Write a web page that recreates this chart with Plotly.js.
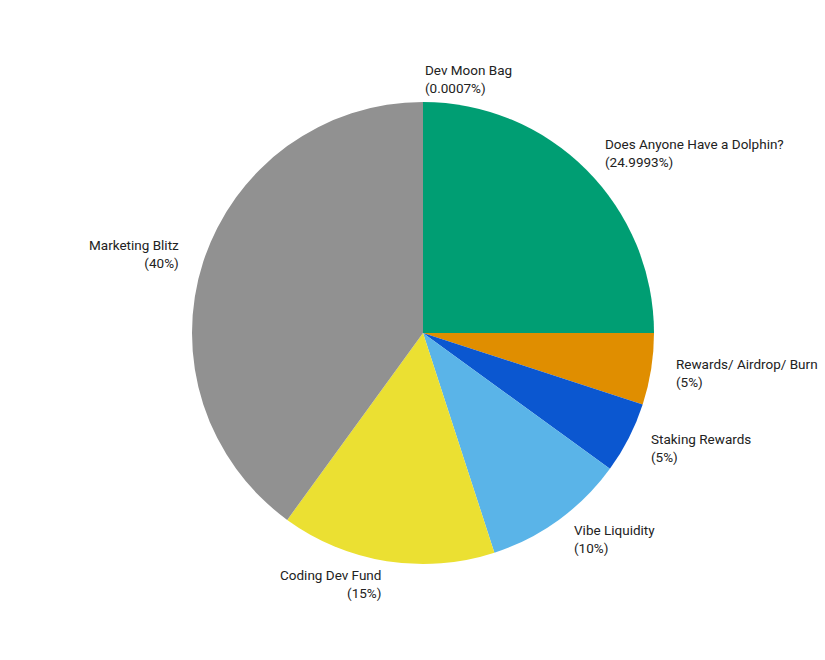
<!DOCTYPE html>
<html>
<head>
<meta charset="utf-8">
<script src="https://cdn.plot.ly/plotly-3.0.1.min.js"></script>
<style>html,body{margin:0;padding:0;background:#fff;}#chart{width:825px;height:660px;}</style>
</head>
<body>
<div id="chart"></div>
<script>
const labels = ["Dev Moon Bag", "Does Anyone Have a Dolphin?", "Rewards/ Airdrop/ Burn", "Staking Rewards", "Vibe Liquidity", "Coding Dev Fund", "Marketing Blitz"];
const values = [0.0007, 24.9993, 5, 5, 10, 15, 40];
const pctLabels = ["0.0007%", "24.9993%", "5%", "5%", "10%", "15%", "40%"];
const colors = ["#919191", "#009E73", "#E08E00", "#0B57D0", "#5AB4E8", "#EBE032", "#919191"];

const W = 825, H = 660;
const cx = 423, cy = 333, R = 231;

const total = values.reduce((a, b) => a + b, 0);
const annotations = [];
let cum = 0;
values.forEach((v, i) => {
  const mid = (cum + v / 2) / total * 2 * Math.PI;
  cum += v;
  const rr = R * 1.1;
  const px = cx + rr * Math.sin(mid);
  const py = cy - rr * Math.cos(mid);
  const left = Math.sin(mid) >= -1e-6;
  annotations.push({
    xref: "paper", yref: "paper",
    x: px / W, y: 1 - py / H,
    xanchor: left ? "left" : "right", yanchor: "middle",
    align: left ? "left" : "right",
    showarrow: false,
    text: labels[i] + "<br>(" + pctLabels[i] + ")",
    font: {family: "Roboto, 'Open Sans', sans-serif", size: 13.5, color: "#222222"}
  });
});

const trace = {
  type: "pie",
  labels: labels,
  values: values,
  sort: false,
  direction: "clockwise",
  rotation: 0,
  textinfo: "none",
  hoverinfo: "label+percent",
  marker: {colors: colors, line: {width: 0}},
  domain: {x: [(cx - R) / W, (cx + R) / W], y: [1 - (cy + R) / H, 1 - (cy - R) / H]},
  showlegend: false
};

Plotly.newPlot("chart", [trace], {
  width: W, height: H,
  margin: {l: 0, r: 0, t: 0, b: 0},
  paper_bgcolor: "#ffffff",
  showlegend: false,
  annotations: annotations
}, {displayModeBar: false, staticPlot: true});
</script>
</body>
</html>
